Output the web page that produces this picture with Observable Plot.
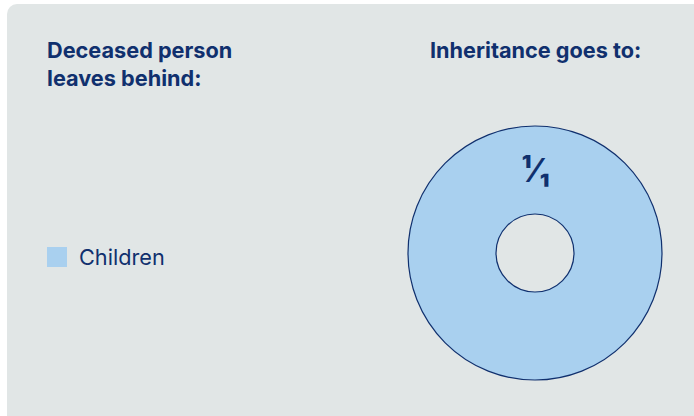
<!DOCTYPE html>
<html>
<head>
<meta charset="utf-8">
<script src="https://cdn.jsdelivr.net/npm/d3@7"></script>
<script src="https://cdn.jsdelivr.net/npm/@observablehq/plot@0.6"></script>
<style>
  html, body { margin: 0; padding: 0; background: #ffffff; }
  #root { position: relative; width: 694px; height: 416px; overflow: hidden; font-family: Inter, "Noto Sans", sans-serif; color: #10306e; }
  #panel { position: absolute; left: 7px; top: 4px; width: 700px; height: 430px; background: #e1e6e6; border-radius: 10px; }
  .title { position: absolute; font-weight: 700; font-size: 21.7px; line-height: 28px; letter-spacing: 0; }
  #legend { position: absolute; left: 47px; top: 244px; display: flex; align-items: center; font-size: 21.7px; }
  #legend .sw { width: 20px; height: 20px; margin-right: 12px; }
  #chart { position: absolute; left: 0; top: 0; }
</style>
</head>
<body>
<div id="root">
  <div id="panel"></div>
  <div class="title" style="left:47px; top:36px;">Deceased person<br>leaves behind:</div>
  <div class="title" style="left:430px; top:36px;">Inheritance goes to:</div>
  <div id="legend"></div>
  <div id="chart"></div>
</div>
<script>
// Data
const heirs = ["Children"];
const shares = [1];
const shareLabels = ["¹⁄₁"];
const heirColors = ["#a9d0ef"];

const navy = "#10306e";
const innerRatio = 39 / 127;

// Legend (HTML)
const legend = document.getElementById("legend");
heirs.forEach((h, i) => {
  const sw = document.createElement("div");
  sw.className = "sw";
  sw.style.background = heirColors[i];
  const t = document.createElement("span");
  t.textContent = h;
  legend.appendChild(sw);
  legend.appendChild(t);
});

// Pie layout
const table = heirs.map((h, i) => ({heir: h, share: shares[i], label: shareLabels[i]}));
const arcs = d3.pie().sort(null).value(d => d.share)(table);
const rMid = (1 + innerRatio) / 2;
const labelData = arcs.map(a => {
  const full = a.endAngle - a.startAngle >= 2 * Math.PI - 1e-6;
  const ang = full ? a.startAngle : (a.startAngle + a.endAngle) / 2;
  return {x: rMid * Math.sin(ang), y: rMid * Math.cos(ang), label: a.data.label};
});

const cx = 535, cy = 253, R = 127;

const donutMark = (index, scales) => {
  const x0 = scales.x(0), y0 = scales.y(0);
  const rOuter = scales.x(1) - x0;
  const arcGen = d3.arc().innerRadius(rOuter * innerRatio).outerRadius(rOuter);
  const g = d3.create("svg:g").attr("transform", `translate(${x0},${y0})`);
  g.selectAll("path").data(arcs).join("path")
    .attr("d", arcGen)
    .attr("fill", (d, i) => scales.color ? scales.color(d.data.heir) : heirColors[i])
    .attr("stroke", navy)
    .attr("stroke-width", 1.2);
  return g.node();
};

const plot = Plot.plot({
  width: 694,
  height: 416,
  margin: 0,
  style: {background: "transparent", overflow: "visible"},
  x: {domain: [-1, 1], range: [cx - R, cx + R], axis: null},
  y: {domain: [-1, 1], range: [cy + R, cy - R], axis: null},
  color: {domain: heirs, range: heirColors},
  marks: [
    donutMark,
    Plot.text(labelData, {
      x: "x", y: "y", text: "label",
      fill: navy, fontSize: 32, fontWeight: 800,
      fontFamily: "Inter, 'Noto Sans', sans-serif",
      dy: 1
    })
  ]
});
document.getElementById("chart").appendChild(plot);
</script>
</body>
</html>
